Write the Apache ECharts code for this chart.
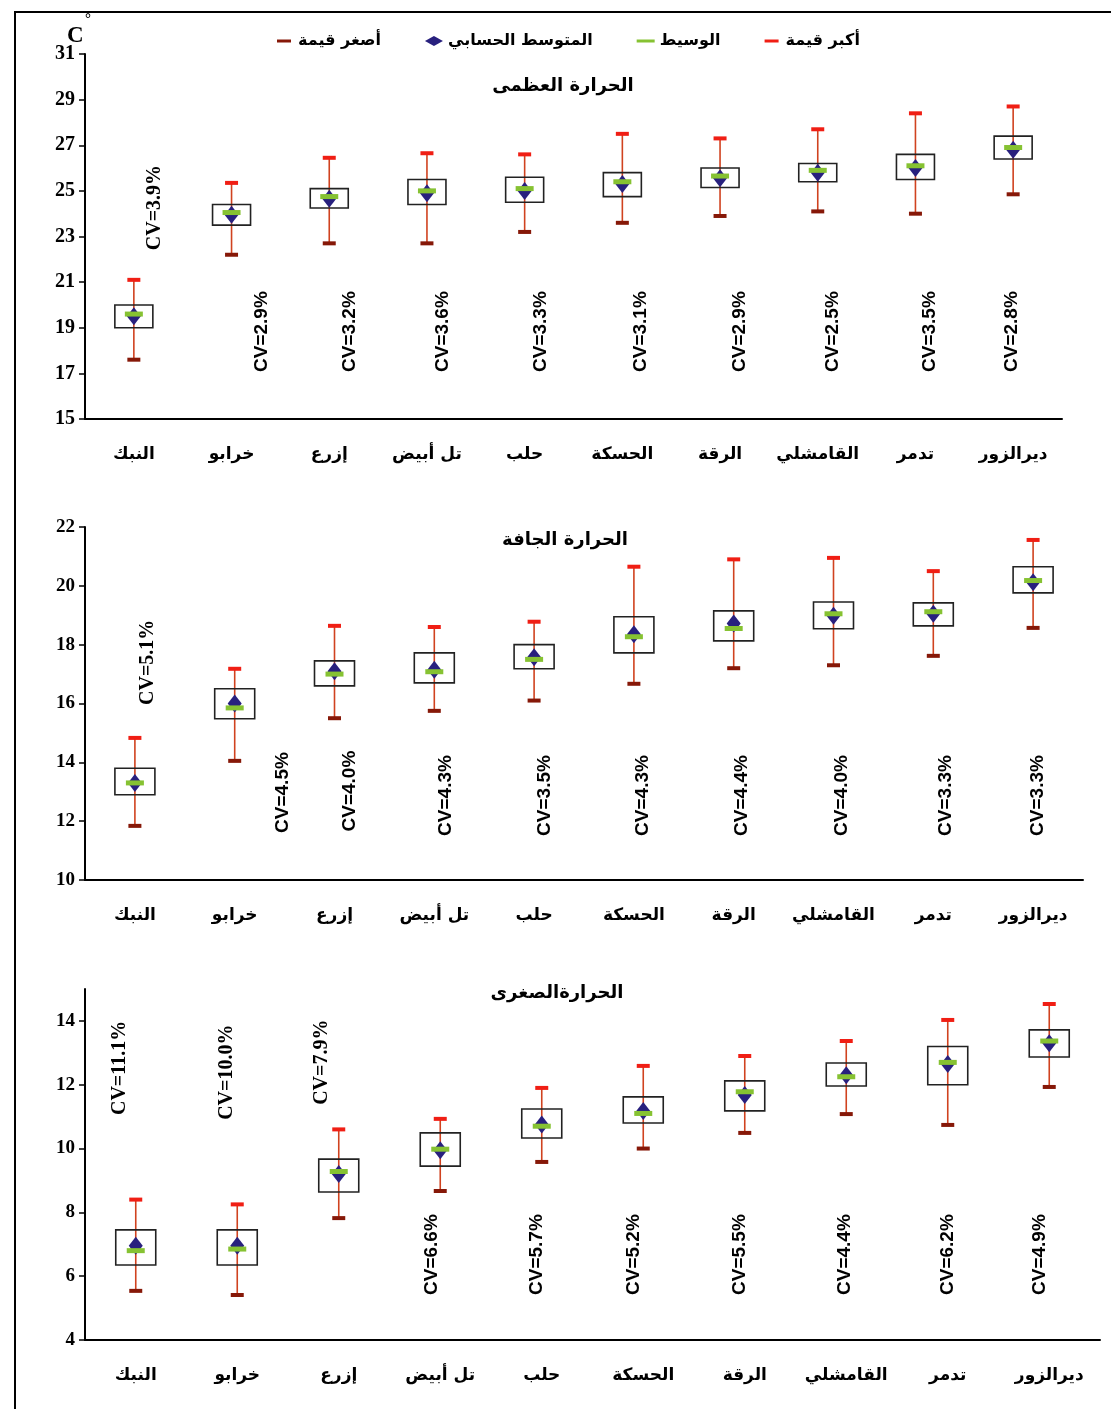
<!DOCTYPE html>
<html><head><meta charset="utf-8">
<script src="https://cdn.jsdelivr.net/npm/echarts@6/dist/echarts.min.js"></script>
<style>html,body{margin:0;padding:0;background:#fff}#c{width:1111px;height:1409px}</style>
</head><body><div id="c"></div>
<script>
// ---------- DATA ----------
const categories = ['النبك','خرابو','إزرع','تل أبيض','حلب','الحسكة','الرقة','القامشلي','تدمر','ديرالزور'];
const seriesNames = { max: 'أكبر قيمة', median: 'الوسيط', mean: 'المتوسط الحسابي', min: 'أصغر قيمة' };
const panelTitles = ['الحرارة العظمى', 'الحرارة الجافة', 'الحرارةالصغرى'];
const unitLabel = 'C';

// Panel 1: maximum temperature
const tmax_max    = [21.1, 25.35, 26.45, 26.65, 26.6, 27.5, 27.3, 27.7, 28.4, 28.7];
const tmax_min    = [17.6, 22.2, 22.7, 22.7, 23.2, 23.6, 23.9, 24.1, 24.0, 24.85];
const tmax_boxTop = [20.0, 24.4, 25.1, 25.5, 25.6, 25.8, 26.0, 26.2, 26.6, 27.4];
const tmax_boxBot = [19.0, 23.5, 24.25, 24.4, 24.5, 24.75, 25.15, 25.4, 25.5, 26.4];
const tmax_mean   = [19.5, 23.95, 24.65, 24.9, 25.0, 25.3, 25.55, 25.8, 26.0, 26.8];
const tmax_median = [19.6, 24.05, 24.75, 25.0, 25.1, 25.4, 25.65, 25.9, 26.1, 26.9];
const tmax_cv     = ['3.9','2.9','3.2','3.6','3.3','3.1','2.9','2.5','3.5','2.8'];
const yTicks1 = [15,17,19,21,23,25,27,29,31];

// Panel 2: dry temperature
const tdry_max    = [14.83, 17.18, 18.64, 18.6, 18.78, 20.65, 20.9, 20.95, 20.5, 21.56];
const tdry_min    = [11.84, 14.05, 15.5, 15.75, 16.1, 16.67, 17.2, 17.3, 17.62, 18.57];
const tdry_boxTop = [13.8, 16.5, 17.45, 17.72, 18.0, 18.95, 19.15, 19.45, 19.42, 20.65];
const tdry_boxBot = [12.9, 15.48, 16.6, 16.7, 17.18, 17.72, 18.13, 18.54, 18.64, 19.76];
const tdry_mean   = [13.3, 16.0, 17.1, 17.15, 17.57, 18.35, 18.72, 18.98, 19.05, 20.12];
const tdry_median = [13.3, 15.85, 17.0, 17.08, 17.5, 18.27, 18.55, 19.05, 19.12, 20.18];
const tdry_cv     = ['5.1','4.5','4.0','4.3','3.5','4.3','4.4','4.0','3.3','3.3'];
const yTicks2 = [10,12,14,16,18,20,22];

// Panel 3: minimum temperature
const tmin_max    = [8.4, 8.25, 10.6, 10.93, 11.9, 12.59, 12.9, 13.37, 14.03, 14.53];
const tmin_min    = [5.54, 5.41, 7.82, 8.67, 9.58, 10.0, 10.49, 11.08, 10.74, 11.93];
const tmin_boxTop = [7.45, 7.45, 9.67, 10.49, 11.24, 11.62, 12.12, 12.68, 13.2, 13.72];
const tmin_boxBot = [6.35, 6.35, 8.64, 9.45, 10.33, 10.8, 11.18, 11.96, 12.0, 12.87];
const tmin_mean   = [6.95, 6.95, 9.2, 9.95, 10.75, 11.18, 11.68, 12.3, 12.65, 13.3];
const tmin_median = [6.8, 6.85, 9.28, 9.98, 10.7, 11.1, 11.78, 12.25, 12.7, 13.37];
const tmin_cv     = ['11.1','10.0','7.9','6.6','5.7','5.2','5.5','4.4','6.2','4.9'];
const yTicks3 = [4,6,8,10,12,14];

// ---------- LAYOUT (positions / styles) ----------
const panels = [
  { max: tmax_max, min: tmax_min, top: tmax_boxTop, bot: tmax_boxBot, mean: tmax_mean, median: tmax_median, cv: tmax_cv, ticks: yTicks1,
    grid: { left: 85, top: 54, width: 977, height: 365 }, yMin: 15, yMax: 31, boxW: 38, yFont: 20,
    cvAt: [22.4, 17.06, 17.06, 17.06, 17.06, 17.06, 17.06, 17.06, 17.06, 17.06],
    cvDx: [21, 30, 21, 16, 16, 18, 20, 15, 14, -1], title: [563, 86] },
  { max: tdry_max, min: tdry_min, top: tdry_boxTop, bot: tdry_boxBot, mean: tdry_mean, median: tdry_median, cv: tdry_cv, ticks: yTicks2,
    grid: { left: 85, top: 527, width: 998, height: 353 }, yMin: 10, yMax: 22, boxW: 40, yFont: 19,
    cvAt: [15.95, 11.6, 11.65, 11.5, 11.5, 11.5, 11.5, 11.5, 11.5, 11.5],
    cvDx: [13, 48, 15, 11, 11, 9, 8, 8, 12, 5], title: [565, 540] },
  { max: tmin_max, min: tmin_min, top: tmin_boxTop, bot: tmin_boxBot, mean: tmin_mean, median: tmin_median, cv: tmin_cv, ticks: yTicks3,
    grid: { left: 85, top: 989, width: 1015, height: 351 }, yMin: 4, yMax: 15, boxW: 40, yFont: 19,
    cvAt: [11.05, 10.9, 11.37, 5.41, 5.41, 5.41, 5.41, 5.41, 5.41, 5.41],
    cvDx: [-16, -10, -17, -8, -5, -9, -5, -1, 0, -9], title: [557, 993] }
];

const AR = 'DejaVu Sans';
const SERIF = 'Liberation Serif';
const SANS = 'Liberation Sans';
const colMax = '#f01e14', colMin = '#861808', colMed = '#86c232', colMean = '#28207e', colWhisk = '#d0421f';

const grids = [], xAxes = [], yAxes = [], series = [];
panels.forEach((p, k) => {
  grids.push(Object.assign({ containLabel: false }, p.grid));
  xAxes.push({
    type: 'category', gridIndex: k, data: categories, boundaryGap: true,
    axisLine: { lineStyle: { color: '#000', width: 2 } },
    axisTick: { lineStyle: { color: '#000', width: 1.5 }, length: 6 },
    axisLabel: { color: '#000', fontFamily: AR, fontWeight: 'bold', fontSize: 17, margin: 27, interval: 0 },
    splitLine: { show: false }
  });
  yAxes.push({
    type: 'value', gridIndex: k, min: p.yMin, max: p.yMax,
    axisLine: { show: true, lineStyle: { color: '#000', width: 2 } },
    axisTick: { show: true, length: 6, lineStyle: { color: '#000', width: 1.5 }, customValues: p.ticks },
    axisLabel: { color: '#000', fontFamily: SERIF, fontWeight: 'bold', fontSize: p.yFont, margin: 10, customValues: p.ticks },
    splitLine: { show: false }
  });
  // whisker + box
  series.push({
    type: 'custom', xAxisIndex: k, yAxisIndex: k, silent: true, z: 2,
    data: categories.map((c, i) => [i, p.min[i], p.max[i], p.bot[i], p.top[i]]),
    renderItem: (params, api) => {
      const i = api.value(0);
      const a = api.coord([i, api.value(1)]);
      const b = api.coord([i, api.value(2)]);
      const bb = api.coord([i, api.value(3)]);
      const bt = api.coord([i, api.value(4)]);
      const w = p.boxW;
      return { type: 'group', children: [
        { type: 'line', shape: { x1: a[0], y1: a[1], x2: b[0], y2: b[1] }, style: { stroke: colWhisk, lineWidth: 1.6 } },
        { type: 'rect', shape: { x: bt[0] - w / 2, y: bt[1], width: w, height: bb[1] - bt[1] }, style: { stroke: '#222', lineWidth: 1.6, fill: 'rgba(0,0,0,0)' } }
      ]};
    }
  });
  const sc = (name, data, symbol, size, color, z) => ({ type: 'scatter', name, xAxisIndex: k, yAxisIndex: k, data, symbol, symbolSize: size,
    itemStyle: { color, opacity: 1 }, z, silent: true, emphasis: { disabled: true } });
  series.push(sc(seriesNames.max, p.max, 'rect', [13, 4], colMax, 3));
  series.push(sc(seriesNames.min, p.min, 'rect', [13, 4], colMin, 3));
  series.push(sc(seriesNames.mean, p.mean, 'diamond', [14, 18], colMean, 4));
  series.push(sc(seriesNames.median, p.median, 'rect', [18, 5], colMed, 5));
  // CV labels
  series.push({
    type: 'custom', xAxisIndex: k, yAxisIndex: k, silent: true, z: 6,
    data: categories.map((c, i) => [i, p.cvAt[i]]),
    renderItem: (params, api) => {
      const i = api.value(0);
      const pt = api.coord([i, api.value(1)]);
      const above = p.cvAt[i] > p.max[i];
      return { type: 'text', x: pt[0] + p.cvDx[i], y: pt[1], rotation: Math.PI / 2,
        style: { text: 'CV=' + p.cv[i] + '%', fill: '#000', align: 'left', verticalAlign: 'middle',
          font: 'bold ' + (above ? '20px ' + SERIF : '19px ' + SANS) } };
    }
  });
});

const dashIcon = 'path://M0,0L0,0M0,3.5H14V6.5H0ZM14,10L14,10';
const dashIconLong = 'path://M0,0L0,0M0,3.5H18V6.5H0ZM18,10L18,10';

const graphics = [
  { type: 'rect', shape: { x: 15, y: 12, width: 1130, height: 1430 }, style: { fill: 'none', stroke: '#000', lineWidth: 2 }, silent: true, z: 0 },
  { type: 'text', x: 67, y: 25, style: { text: unitLabel, font: 'bold 23px ' + SERIF, fill: '#000' } },
  { type: 'text', x: 85, y: 12, style: { text: '°', font: 'bold 15px ' + SERIF, fill: '#000' } }
];
panels.forEach((p, k) => {
  graphics.push({ type: 'text', x: p.title[0], y: p.title[1], style: { text: panelTitles[k], font: 'bold 18px ' + AR, fill: '#000', align: 'center', verticalAlign: 'middle' } });
});

const option = {
  animation: false,
  backgroundColor: '#fff',
  legend: {
    left: 272, top: 28, align: 'left', itemGap: 44, itemWidth: 18, itemHeight: 10, selectedMode: false,
    textStyle: { fontFamily: AR, fontWeight: 'bold', fontSize: 16, color: '#000' },
    data: [
      { name: seriesNames.min, icon: dashIcon },
      { name: seriesNames.mean, icon: 'diamond' },
      { name: seriesNames.median, icon: dashIconLong },
      { name: seriesNames.max, icon: dashIcon }
    ]
  },
  grid: grids, xAxis: xAxes, yAxis: yAxes, series: series,
  graphic: graphics
};
const chart = echarts.init(document.getElementById('c'), null, { renderer: 'canvas' });
chart.setOption(option);
</script></body></html>
